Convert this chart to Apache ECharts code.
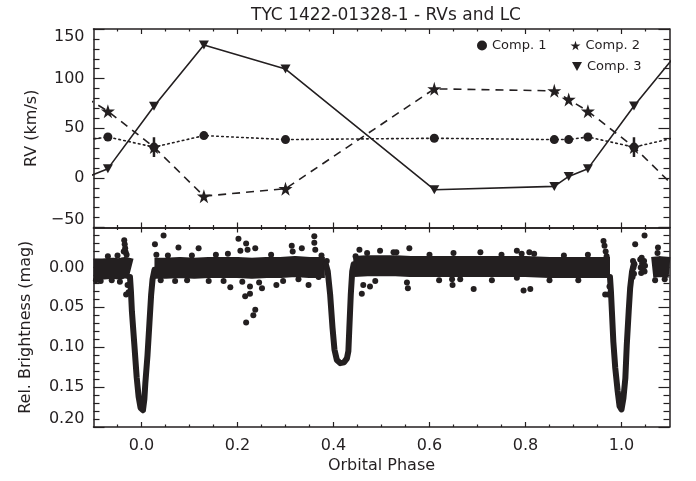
<!DOCTYPE html>
<html>
<head>
<meta charset="utf-8">
<script src="https://cdn.jsdelivr.net/npm/echarts@6/dist/echarts.min.js"></script>
<style>html,body{margin:0;padding:0;background:#fff}#c{width:696px;height:481px}</style>
</head>
<body>
<div id="c"></div>
<script>
// ---------- DATA ----------
const titleText = 'TYC 1422-01328-1 - RVs and LC';
const xMajor = [0, 0.2, 0.4, 0.6, 0.8, 1.0];
const xMinor = [-0.05,0.05,0.1,0.15,0.25,0.3,0.35,0.45,0.5,0.55,0.65,0.7,0.75,0.85,0.9,0.95,1.05];

// RV phases (phase-folded, repeated beyond 0..1)
const phaseRV = [-0.14, -0.11, -0.07, 0.026, 0.13, 0.30, 0.61, 0.86, 0.89, 0.93, 1.026, 1.13, 1.30];
const comp1 = [38.6, 38.6, 41.2, 31, 42.6, 38.6, 39.9, 38.6, 38.6, 41.2, 31, 42.6, 38.6];
const comp2 = [87.7, 79, 67.2, 31, -18.4, -10.9, 89.7, 87.7, 79, 67.2, 31, -18.4, -10.9];
const comp3 = [-8.6, 1.5, 9.3, 72.2, 133.8, 109.6, -11.9, -8.6, 1.5, 9.3, 72.5, 133.8, 109.6];
const errPhase = [0.026, 1.026];
const errLow = [21, 21];
const errHigh = [41, 41];

// Light curve: dense band (median trace), eclipses, and scattered points
const lcBandA = [[-0.1,0.002],[-0.08,0.002],[-0.06,0.001],[-0.045,0.002],[-0.035,0.0],[-0.022,0.002]];
const lcBandB = [[0.027,0.001],[0.05,0.001],[0.08,0.0],[0.11,0.001],[0.14,0.0],[0.17,0.0],[0.2,0.0],[0.23,0.001],[0.26,0.0],[0.29,0.0],[0.32,-0.001],[0.35,0.0],[0.382,0.0]];
const lcBandC = [[0.442,-0.001],[0.47,-0.002],[0.5,-0.002],[0.53,-0.002],[0.56,-0.001],[0.6,-0.001],[0.65,-0.001],[0.7,-0.001],[0.75,-0.001],[0.8,-0.001],[0.85,0.0],[0.9,0.0],[0.95,0.0],[0.976,0.0]];
const lcBandD = [[1.064,0.0],[1.08,-0.001],[1.1,0.0]];
const lcEclipse1 = [[-0.024,0.012],[-0.022,0.03],[-0.020,0.055],[-0.015,0.096],[-0.010,0.138],[-0.006,0.162],[-0.002,0.176],[0.003,0.179],[0.006,0.165],[0.008,0.145],[0.0125,0.11],[0.0165,0.07],[0.020,0.035],[0.023,0.015],[0.027,0.003]];
const lcEclipse2 = [[0.384,-0.004],[0.388,0.005],[0.393,0.034],[0.398,0.076],[0.402,0.103],[0.407,0.116],[0.414,0.12],[0.422,0.119],[0.428,0.114],[0.431,0.105],[0.433,0.076],[0.436,0.034],[0.439,0.005],[0.442,-0.004]];
const lcEclipse3 = [[0.976,0.012],[0.978,0.03],[0.980,0.055],[0.983,0.093],[0.987,0.126],[0.992,0.155],[0.996,0.174],[1.0,0.178],[1.004,0.164],[1.008,0.139],[1.011,0.097],[1.015,0.055],[1.018,0.026],[1.022,0.005],[1.026,-0.005]];
const lcScatter = [
 [-0.036,-0.034],[-0.035,-0.029],[-0.034,-0.024],[-0.033,-0.019],[-0.037,-0.02],[-0.031,-0.016],
 [-0.032,0.034],[-0.027,0.031],[-0.029,0.022],
 [-0.095,0.016],[-0.085,0.017],[-0.07,-0.014],[-0.062,0.016],[-0.05,-0.015],[-0.045,0.018],
 [0.028,-0.029],[0.031,-0.016],[0.046,-0.04],[0.077,-0.025],[0.119,-0.024],
 [0.04,0.016],[0.055,-0.015],[0.07,0.017],[0.095,0.016],[0.105,-0.015],[0.14,0.017],[0.155,-0.016],[0.171,0.017],[0.18,-0.017],
 [0.202,-0.036],[0.206,-0.021],[0.218,-0.03],[0.221,-0.022],[0.237,-0.024],[0.185,0.025],[0.216,0.036],[0.226,0.033],[0.226,0.024],[0.237,0.053],[0.233,0.06],[0.218,0.069],[0.251,0.026],[0.281,0.022],[0.21,0.018],[0.245,0.019],
 [0.27,-0.016],[0.295,0.017],[0.313,-0.027],[0.315,-0.02],[0.334,-0.024],[0.327,0.015],[0.348,0.022],[0.36,-0.039],[0.36,-0.031],[0.362,-0.022],[0.369,0.012],[0.375,-0.015],[0.386,-0.008],
 [0.446,-0.014],[0.454,-0.022],[0.459,0.033],[0.462,0.022],[0.476,0.024],[0.47,-0.018],[0.487,0.017],[0.497,-0.021],[0.525,-0.019],[0.531,-0.019],[0.553,0.019],[0.555,0.026],[0.558,-0.024],
 [0.6,-0.016],[0.62,0.016],[0.647,0.015],[0.648,0.022],[0.65,-0.018],[0.664,0.015],[0.692,0.027],[0.706,-0.019],[0.73,0.016],[0.75,-0.016],[0.782,-0.021],[0.782,0.013],[0.792,-0.017],[0.796,0.029],[0.808,-0.019],[0.81,0.027],[0.818,-0.017],[0.85,0.016],[0.88,-0.015],[0.91,0.016],[0.93,-0.016],
 [0.9625,-0.033],[0.9646,-0.027],[0.967,-0.02],[0.969,-0.014],[0.966,0.034],[0.972,0.034],[0.975,0.024],
 [1.024,-0.008],[1.025,0.0],[1.026,0.008],[1.027,-0.004],[1.023,0.012],[1.0285,-0.029],
 [1.039,-0.01],[1.040,0.0],[1.041,0.007],[1.043,-0.005],[1.045,0.003],[1.047,-0.008],[1.048,0.005],[1.049,-0.002],[1.042,-0.012],[1.048,-0.04],
 [1.075,-0.018],[1.076,-0.025],[1.07,0.016],[1.09,0.015]
];

// ---------- STYLE ----------
const INK = '#231f20';
const FONT = 'DejaVu Sans';
const STAR = 'path://M50,0L61,35L98,35L68,57L79,91L50,70L21,91L32,57L2,35L39,35Z';
const TRI = 'path://M0,0L10,0L5,9Z';

function xAx(grid, pos, ticks, len, showLine, labels, name) {
  return {
    type: 'value', gridIndex: grid, position: pos, min: -0.1, max: 1.1,
    axisLine: {show: showLine, onZero: false, lineStyle: {color: INK, width: 1.5}},
    axisTick: {show: true, inside: true, length: len, customValues: ticks, lineStyle: {color: INK, width: 1.2}},
    axisLabel: labels ? {show: true, customValues: xMajor, formatter: v => v.toFixed(1), color: INK, fontFamily: FONT, fontSize: 16, margin: 11} : {show: false},
    splitLine: {show: false},
    name: name || '', nameLocation: 'middle', nameGap: 31,
    nameTextStyle: {color: INK, fontFamily: FONT, fontSize: 16}
  };
}
function yAx(grid, pos, min, max, interval, inverse, labels, fmt, name, nameGap) {
  const a = {
    type: 'value', gridIndex: grid, position: pos, min: min, max: max, interval: interval, inverse: inverse,
    axisLine: {show: true, onZero: false, lineStyle: {color: INK, width: 1.5}},
    axisTick: {show: true, inside: true, length: 11, lineStyle: {color: INK, width: 1.2}},
    minorTick: {show: true, splitNumber: 5, length: 6, lineStyle: {color: INK, width: 1.2}},
    splitLine: {show: false}, minorSplitLine: {show: false},
    axisLabel: {show: false}
  };
  if (labels) {
    a.axisLabel = Object.assign({show: true, color: INK, fontFamily: FONT, fontSize: 16, margin: 9, formatter: fmt}, labels);
    a.name = name; a.nameLocation = 'middle'; a.nameGap = nameGap;
    a.nameTextStyle = {color: INK, fontFamily: FONT, fontSize: 16};
  }
  return a;
}

const zip = (xs, ys) => xs.map((x, i) => [x, ys[i]]);

const option = {
  animation: false,
  backgroundColor: '#fff',
  title: {text: titleText, left: 381, top: 2, textAlign: 'center',
          textStyle: {color: INK, fontFamily: FONT, fontSize: 17, fontWeight: 'normal'}},
  legend: [
    {left: 472, top: 34, itemWidth: 10, itemHeight: 10, itemGap: 24, selectedMode: false,
     textStyle: {color: INK, fontFamily: FONT, fontSize: 13},
     data: [{name: 'Comp. 1', icon: 'circle'}, {name: 'Comp. 2', icon: STAR}]},
    {left: 567, top: 55, itemWidth: 10, itemHeight: 9, selectedMode: false,
     textStyle: {color: INK, fontFamily: FONT, fontSize: 13},
     data: [{name: 'Comp. 3', icon: TRI}]}
  ],
  grid: [
    {left: 93.5, top: 29, width: 576, height: 198.5, outerBoundsMode: 'none'},
    {left: 93.5, top: 227.5, width: 576, height: 199.5, outerBoundsMode: 'none'}
  ],
  xAxis: [
    xAx(0, 'bottom', xMajor, 5, true, false),
    xAx(0, 'bottom', xMinor, 2.5, false, false),
    xAx(0, 'top', xMajor, 5, true, false),
    xAx(0, 'top', xMinor, 2.5, false, false),
    xAx(1, 'bottom', xMajor, 5, true, true, 'Orbital Phase'),
    xAx(1, 'bottom', xMinor, 2.5, false, false),
    xAx(1, 'top', xMajor, 5, true, false),
    xAx(1, 'top', xMinor, 2.5, false, false)
  ],
  yAxis: [
    yAx(0, 'left', -50, 150, 50, false, {showMinLabel: true, showMaxLabel: true, verticalAlignMinLabel: 'bottom', verticalAlignMaxLabel: 'top'},
        v => String(v).replace('-', '\u2212'), 'RV (km/s)', 52),
    yAx(0, 'right', -50, 150, 50, false, null),
    yAx(1, 'left', -0.05, 0.2, 0.05, true, {showMinLabel: false, showMaxLabel: true, verticalAlignMaxLabel: 'bottom'},
        v => v.toFixed(2), 'Rel. Brightness (mag)', 60),
    yAx(1, 'right', -0.05, 0.2, 0.05, true, null)
  ],
  series: [
    {type: 'line', name: 'Comp. 1', xAxisIndex: 0, yAxisIndex: 0, data: zip(phaseRV, comp1), clip: true,
     symbol: 'circle', symbolSize: 9, itemStyle: {color: INK, opacity: 1},
     lineStyle: {color: INK, width: 1.6, type: [1.6, 3.4], cap: 'round'}, z: 3},
    {type: 'line', name: 'Comp. 2', xAxisIndex: 0, yAxisIndex: 0, data: zip(phaseRV, comp2), clip: true,
     symbol: STAR, symbolSize: 14, itemStyle: {color: INK, opacity: 1},
     lineStyle: {color: INK, width: 1.6, type: [8, 6]}, z: 4},
    {type: 'line', name: 'Comp. 3', xAxisIndex: 0, yAxisIndex: 0, data: zip(phaseRV, comp3), clip: true,
     symbol: TRI, symbolSize: [10, 9], itemStyle: {color: INK, opacity: 1},
     lineStyle: {color: INK, width: 1.6}, z: 3},
    {type: 'custom', name: 'err', xAxisIndex: 0, yAxisIndex: 0, clip: true, z: 5,
     data: errPhase.map((p, i) => [p, errLow[i], errHigh[i]]),
     encode: {x: 0, y: [1, 2]},
     renderItem: (params, api) => {
       const a = api.coord([api.value(0), api.value(1)]);
       const b = api.coord([api.value(0), api.value(2)]);
       return {type: 'line', shape: {x1: a[0], y1: a[1], x2: b[0], y2: b[1]}, style: {stroke: INK, lineWidth: 2.5}};
     }},
    // light curve
    ...[lcBandA, lcBandB, lcBandC, lcBandD].map(d => ({
      type: 'line', xAxisIndex: 4, yAxisIndex: 2, data: d, clip: true, symbol: 'none', silent: true,
      lineStyle: {color: INK, width: 21, cap: 'butt', join: 'round'}
    })),
    ...[lcEclipse1, lcEclipse2, lcEclipse3].map(d => ({
      type: 'line', xAxisIndex: 4, yAxisIndex: 2, data: d, clip: true, symbol: 'none', silent: true,
      lineStyle: {color: INK, width: 6, cap: 'round', join: 'round'}
    })),
    {type: 'scatter', xAxisIndex: 4, yAxisIndex: 2, data: lcScatter, clip: true, symbolSize: 6,
     itemStyle: {color: INK, opacity: 1}, silent: true}
  ]
};

const chart = echarts.init(document.getElementById('c'), null, {renderer: 'canvas'});
chart.setOption(option);
</script>
</body>
</html>
